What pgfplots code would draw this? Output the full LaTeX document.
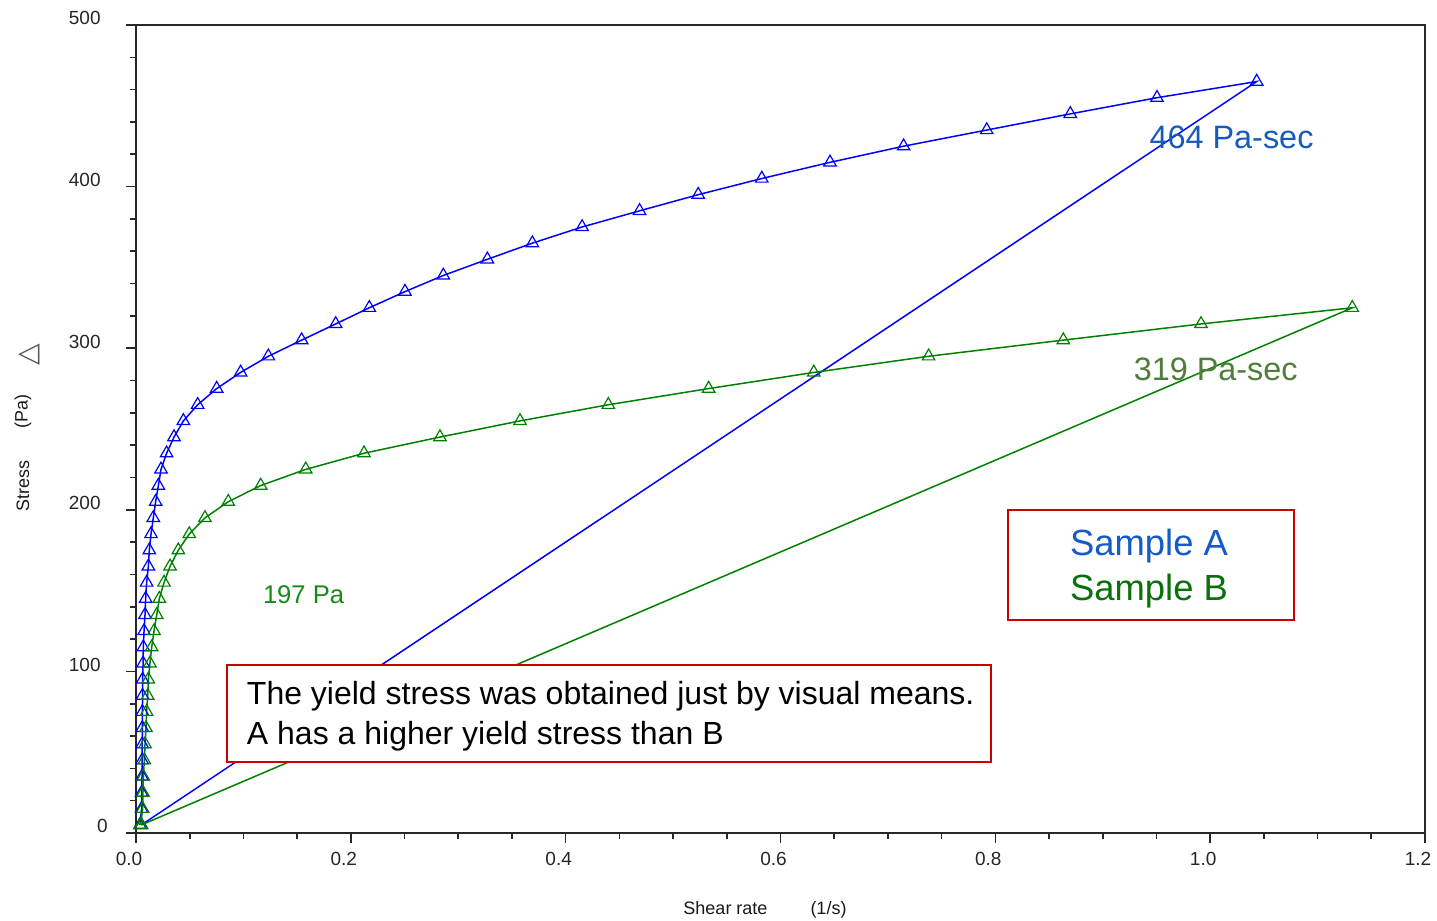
\documentclass[border=0pt]{standalone}
\usepackage{pgfplots}
\pgfplotsset{compat=1.18}
\usepackage{pgfplotstable}
\usepackage{fontspec}
\setmainfont{Liberation Sans}
\newfontfamily\symfont{DejaVu Sans}

\definecolor{seriesA}{RGB}{0,0,255}
\definecolor{seriesB}{RGB}{0,128,0}
\definecolor{labelA}{RGB}{21,90,190}
\definecolor{labelB}{RGB}{80,125,58}
\definecolor{yieldB}{RGB}{20,140,20}
\definecolor{sampA}{RGB}{20,90,200}
\definecolor{sampB}{RGB}{10,112,10}
\definecolor{boxred}{RGB}{200,0,0}
\definecolor{axisgray}{RGB}{40,40,40}

% Flow curves: shear rate (1/s) vs. stress (Pa), up-sweep then return
\pgfplotstableread{
rate    stress
0.0037  5
0.0052  15
0.0053  25
0.0056  35
0.0057  45
0.0058  55
0.0059  65
0.0060  75
0.0061  85
0.0062  95
0.0066  105
0.0068  115
0.0075  125
0.0084  135
0.0090  145
0.0099  155
0.0115  165
0.0124  175
0.0140  185
0.0161  195
0.0183  205
0.0208  215
0.0233  225
0.0285  235
0.0354  245
0.0441  255
0.0574  265
0.0751  275
0.0974  285
0.1232  295
0.1542  305
0.1859  315
0.2172  325
0.2504  335
0.2861  345
0.3271  355
0.3690  365
0.4153  375
0.4688  385
0.5234  395
0.5826  405
0.6461  415
0.7146  425
0.7920  435
0.8698  445
0.9505  455
1.0433  465
0.0050  5
}\sampleA

\pgfplotstableread{
rate    stress
0.0043  5
0.0062  15
0.0065  25
0.0068  35
0.0078  45
0.0084  55
0.0093  65
0.0099  75
0.0109  85
0.0115  95
0.0130  105
0.0146  115
0.0168  125
0.0193  135
0.0217  145
0.0261  155
0.0317  165
0.0394  175
0.0496  185
0.0642  195
0.0859  205
0.1161  215
0.1580  225
0.2123  235
0.2830  245
0.3575  255
0.4397  265
0.5331  275
0.6310  285
0.7379  295
0.8633  305
0.9915  315
1.1323  325
0.0050  5
}\sampleB

\begin{document}
\begin{tikzpicture}
\useasboundingbox (-68pt,-44pt) rectangle (650.5pt,416.5pt);
\begin{axis}[
  at={(0pt,0pt)}, anchor=south west,
  scale only axis, width=644.5pt, height=404pt,
  xmin=0, xmax=1.2, ymin=0, ymax=500,
  xtick={0,0.2,0.4,0.6,0.8,1.0,1.2},
  ytick={0,100,200,300,400,500},
  minor x tick num=3, minor y tick num=4,
  xtick pos=bottom, ytick pos=left, tick align=outside,
  major tick length=5pt, minor tick length=3pt,
  axis line style={axisgray, line width=0.8pt},
  tick style={axisgray, line width=0.8pt},
  /pgf/number format/assume math mode=true,
  ticklabel style={font=\fontsize{9.5}{11}\selectfont, text=black!85},
  xticklabel style={/pgf/number format/fixed, /pgf/number format/fixed zerofill,
    /pgf/number format/precision=1, anchor=north, inner sep=0pt, xshift=-3.5pt},
  yticklabel style={/pgf/number format/fixed, anchor=base east, inner sep=0pt},
  % the zero label sits a little to the right of the others
  yticklabel={\ifnum\ticknum=0 \makebox[0pt][r]{0\hspace{-4pt}}\else\pgfmathprintnumber{\tick}\fi},
  xticklabel shift=4.5pt,
  yticklabel shift=12.5pt,
]
\addplot[seriesA, line width=0.75pt, mark=triangle, mark size=3.6pt,
  mark options={line width=0.6pt}] table[x=rate, y=stress] {\sampleA};
\addplot[seriesB, line width=0.75pt, mark=triangle, mark size=3.6pt,
  mark options={line width=0.6pt}] table[x=rate, y=stress] {\sampleB};
\end{axis}

% axis titles
\node[font=\fontsize{9}{11}\selectfont, text=black!90] at (314.5pt,-38.5pt)
  {Shear rate\hspace{21.5pt}(1/s)};
\node[font=\fontsize{9}{11}\selectfont, text=black!90, rotate=90] at (-56.5pt,173.5pt) {Stress};
\node[font=\fontsize{9}{11}\selectfont, text=black!90, rotate=90] at (-56.5pt,210.7pt) {(Pa)};
\node[font=\symfont\fontsize{14}{16}\selectfont, text=black!65, rotate=90, inner sep=0pt]
  at (-53.5pt,239pt) {△};

% slope and yield annotations
\node[anchor=base west, inner sep=0pt, text=labelA, font=\fontsize{16.2}{18}\selectfont]
  at (506.6pt,342pt) {464 Pa-sec};
\node[anchor=base west, inner sep=0pt, text=labelB, font=\fontsize{16.2}{18}\selectfont]
  at (498.7pt,226.2pt) {319 Pa-sec};
\node[anchor=base west, inner sep=0pt, text=yieldB, font=\fontsize{12.8}{14}\selectfont]
  at (63.3pt,114.9pt) {197 Pa};

% sample key
\draw[boxred, line width=0.8pt, fill=white] (436pt,106.5pt) rectangle (579pt,161.5pt);
\node[anchor=base, inner sep=0pt, text=sampA, font=\fontsize{18.2}{20}\selectfont]
  at (506.5pt,138.5pt) {Sample A};
\node[anchor=base, inner sep=0pt, text=sampB, font=\fontsize{18.2}{20}\selectfont]
  at (506.5pt,116pt) {Sample B};

% comment box
\draw[boxred, line width=0.8pt, fill=white] (45.5pt,35.5pt) rectangle (427.5pt,84pt);
\node[anchor=base west, inner sep=0pt, font=\fontsize{16}{18}\selectfont]
  at (55.3pt,64pt) {The yield stress was obtained just by visual means.};
\node[anchor=base west, inner sep=0pt, font=\fontsize{16}{18}\selectfont]
  at (55.3pt,44.35pt) {A has a higher yield stress than B};
\end{tikzpicture}
\end{document}
